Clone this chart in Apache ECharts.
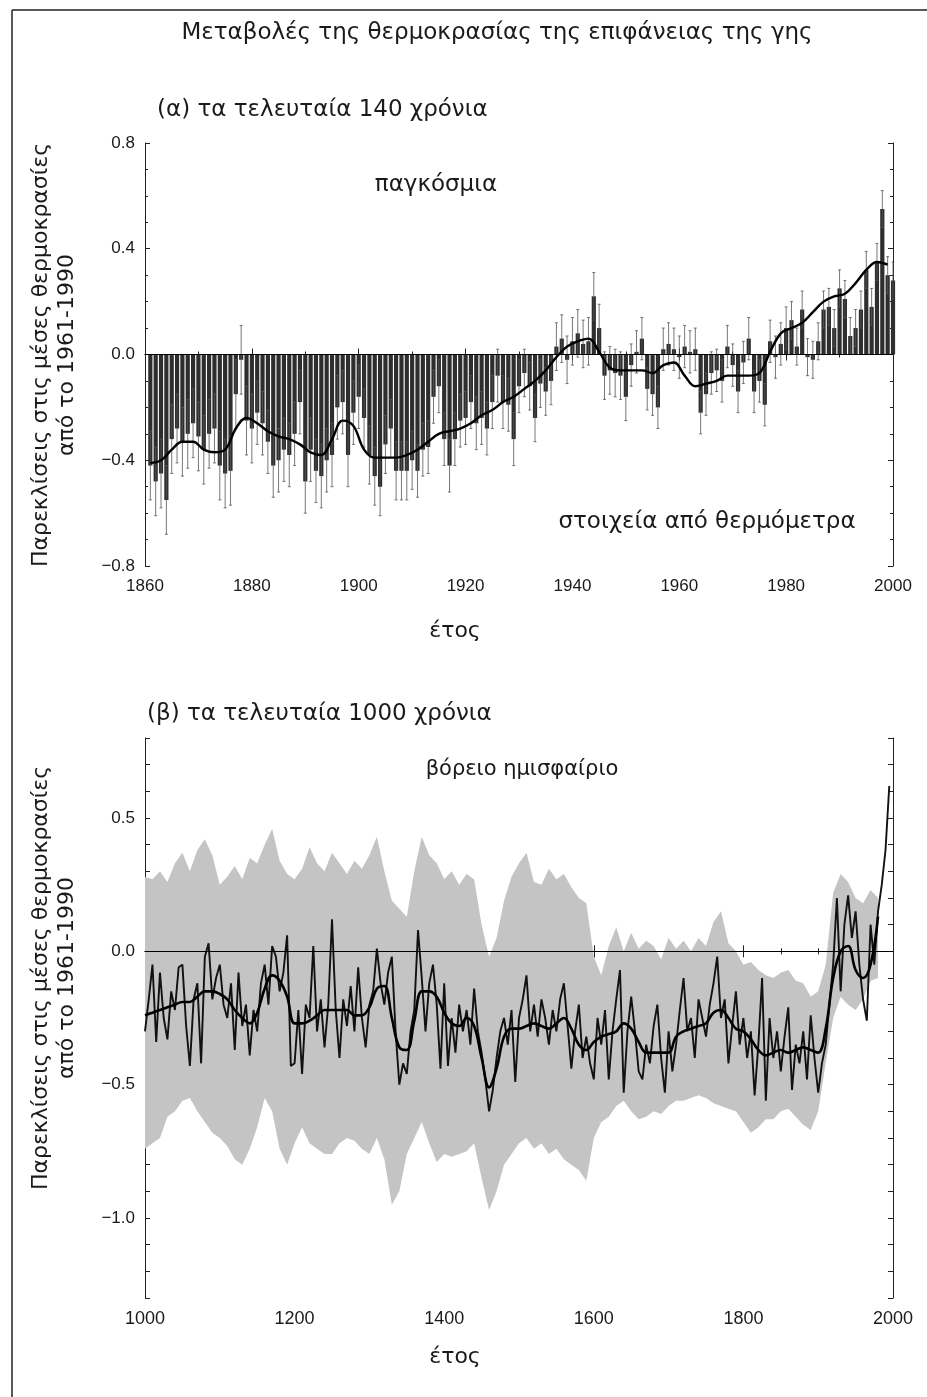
<!DOCTYPE html>
<html>
<head>
<meta charset="utf-8">
<script src="https://cdn.jsdelivr.net/npm/echarts@6/dist/echarts.min.js"></script>
<style>
html,body{margin:0;padding:0;background:#fff;}
#main{width:927px;height:1397px;}
</style>
</head>
<body>
<div id="main"></div>
<script>
// (α) annual global anomalies 1861-2000
var startA = 1861;
var valsA = [
 -0.42,-0.48,-0.45,-0.55,-0.32,-0.28,-0.33,-0.30,-0.26,-0.31,
 -0.36,-0.30,-0.28,-0.42,-0.45,-0.44,-0.15,-0.02,-0.25,-0.28,
 -0.22,-0.26,-0.33,-0.42,-0.40,-0.36,-0.38,-0.30,-0.18,-0.48,
 -0.36,-0.44,-0.46,-0.40,-0.38,-0.20,-0.18,-0.38,-0.22,-0.16,
 -0.24,-0.38,-0.46,-0.50,-0.34,-0.28,-0.44,-0.44,-0.44,-0.40,
 -0.44,-0.36,-0.35,-0.16,-0.12,-0.32,-0.42,-0.32,-0.25,-0.24,
 -0.18,-0.26,-0.24,-0.28,-0.18,-0.08,-0.18,-0.19,-0.32,-0.12,
 -0.07,-0.12,-0.24,-0.11,-0.14,-0.10,0.03,0.06,-0.02,0.05,
 0.08,0.04,0.05,0.22,0.10,-0.08,-0.06,-0.07,-0.08,-0.16,
 -0.04,0.01,0.06,-0.13,-0.15,-0.20,0.02,0.04,0.02,-0.01,
 0.03,0.01,0.02,-0.22,-0.15,-0.07,-0.06,-0.10,0.03,-0.04,
 -0.14,-0.03,0.06,-0.14,-0.10,-0.19,0.05,-0.01,0.04,0.10,
 0.13,0.03,0.17,-0.01,-0.02,0.05,0.17,0.18,0.10,0.25,
 0.21,0.07,0.10,0.17,0.32,0.18,0.35,0.55,0.30,0.28
];
// error half-width per decade (1861-70, 1871-80, ...)
var errA = [0.13,0.13,0.12,0.12,0.11,0.10,0.10,0.09,0.09,0.08,0.08,0.08,0.07,0.07];
// smoothed curve, every 2 years from 1861
var smoothStartA = 1861, smoothStepA = 2;
var smoothA = [
 -0.41,-0.40,-0.36,-0.33,-0.33,-0.36,-0.37,-0.36,-0.28,-0.24,
 -0.26,-0.29,-0.31,-0.32,-0.34,-0.37,-0.38,-0.32,-0.25,-0.27,
 -0.36,-0.39,-0.39,-0.39,-0.38,-0.36,-0.33,-0.30,-0.29,-0.28,
 -0.26,-0.23,-0.21,-0.18,-0.16,-0.13,-0.10,-0.06,-0.01,0.03,
 0.05,0.06,0.01,-0.05,-0.06,-0.06,-0.06,-0.07,-0.04,-0.03,
 -0.08,-0.12,-0.11,-0.10,-0.08,-0.08,-0.08,-0.07,0.01,0.08,
 0.10,0.12,0.16,0.20,0.22,0.23,0.27,0.32,0.35,0.34
];

// (β) northern hemisphere 1000-2000
var lineStartB = 1000, lineStepB = 5;
var lineB = [
 -0.30,-0.18,-0.05,-0.34,-0.08,-0.25,-0.33,-0.15,-0.22,-0.06,
 -0.05,-0.28,-0.43,-0.18,-0.12,-0.42,-0.02,0.03,-0.18,-0.10,
 -0.05,-0.20,-0.25,-0.12,-0.37,-0.08,-0.28,-0.20,-0.39,-0.22,
 -0.30,-0.12,-0.05,-0.20,0.02,-0.02,-0.15,-0.08,0.06,-0.43,
 -0.42,-0.22,-0.46,-0.20,-0.25,0.02,-0.30,-0.18,-0.36,-0.20,
 0.12,-0.22,-0.40,-0.18,-0.28,-0.13,-0.30,-0.06,-0.25,-0.36,
 -0.20,-0.15,0.01,-0.12,-0.20,-0.08,-0.02,-0.30,-0.50,-0.42,
 -0.46,-0.30,-0.22,0.08,-0.10,-0.30,-0.12,-0.05,-0.20,-0.44,
 -0.12,-0.43,-0.25,-0.38,-0.20,-0.30,-0.22,-0.35,-0.14,-0.30,
 -0.38,-0.48,-0.60,-0.52,-0.40,-0.30,-0.25,-0.35,-0.22,-0.49,
 -0.25,-0.18,-0.09,-0.30,-0.20,-0.32,-0.18,-0.25,-0.35,-0.22,
 -0.30,-0.18,-0.12,-0.28,-0.44,-0.30,-0.20,-0.40,-0.32,-0.42,
 -0.48,-0.25,-0.35,-0.22,-0.48,-0.30,-0.18,-0.07,-0.53,-0.30,
 -0.17,-0.30,-0.45,-0.48,-0.35,-0.42,-0.28,-0.20,-0.40,-0.53,
 -0.30,-0.45,-0.35,-0.22,-0.10,-0.30,-0.25,-0.40,-0.18,-0.25,
 -0.32,-0.20,-0.12,-0.02,-0.25,-0.18,-0.42,-0.28,-0.15,-0.35,
 -0.25,-0.40,-0.30,-0.54,-0.35,-0.10,-0.56,-0.25,-0.40,-0.30,
 -0.45,-0.32,-0.21,-0.52,-0.35,-0.42,-0.30,-0.48,-0.24,-0.40,
 -0.53,-0.42,-0.35,-0.20,-0.05,0.20,-0.15,0.10,0.21,0.05,
 0.15,-0.05,-0.18,-0.26,0.10,-0.05,0.15,0.25,0.38,0.62
];
// decadal series 1000-1980
var decStartB = 1000, decStepB = 10;
var smoothB = [
 -0.24,-0.23,-0.22,-0.21,-0.20,-0.19,-0.19,-0.17,-0.15,-0.15,
 -0.16,-0.18,-0.22,-0.25,-0.27,-0.23,-0.14,-0.09,-0.11,-0.17,
 -0.27,-0.27,-0.26,-0.24,-0.22,-0.22,-0.22,-0.22,-0.24,-0.24,
 -0.21,-0.14,-0.13,-0.25,-0.36,-0.37,-0.26,-0.15,-0.15,-0.17,
 -0.23,-0.27,-0.28,-0.25,-0.28,-0.40,-0.51,-0.44,-0.32,-0.29,
 -0.29,-0.28,-0.27,-0.28,-0.29,-0.27,-0.25,-0.29,-0.35,-0.37,
 -0.34,-0.32,-0.31,-0.30,-0.27,-0.29,-0.34,-0.38,-0.38,-0.38,
 -0.38,-0.32,-0.30,-0.29,-0.28,-0.27,-0.23,-0.22,-0.25,-0.29,
 -0.30,-0.33,-0.37,-0.39,-0.38,-0.37,-0.38,-0.37,-0.36,-0.37,
 -0.38,-0.29,-0.10,0.00,0.02,-0.07,-0.10,-0.05,0.13
];
var bandUpperB = [
 0.28,0.27,0.30,0.26,0.33,0.37,0.30,0.38,0.42,0.36,
 0.25,0.28,0.32,0.27,0.35,0.33,0.40,0.46,0.34,0.29,
 0.27,0.31,0.39,0.33,0.30,0.37,0.33,0.29,0.34,0.31,
 0.36,0.43,0.30,0.19,0.16,0.13,0.30,0.43,0.36,0.33,
 0.27,0.30,0.25,0.29,0.27,0.10,-0.02,0.05,0.19,0.28,
 0.33,0.37,0.26,0.25,0.31,0.27,0.29,0.24,0.20,0.18,
 -0.02,-0.09,0.02,0.09,0.00,0.07,0.01,0.04,0.02,-0.03,
 0.05,0.01,0.04,0.00,0.05,0.02,0.11,0.15,0.03,0.00,
 -0.05,-0.04,-0.07,-0.09,-0.10,-0.08,-0.07,-0.11,-0.12,-0.17,
 -0.15,-0.05,0.22,0.29,0.26,0.20,0.18,0.23,0.20
];
var bandLowerB = [
 -0.74,-0.72,-0.70,-0.62,-0.60,-0.56,-0.55,-0.60,-0.64,-0.68,
 -0.70,-0.73,-0.78,-0.80,-0.74,-0.66,-0.55,-0.60,-0.74,-0.80,
 -0.72,-0.66,-0.72,-0.74,-0.76,-0.76,-0.72,-0.70,-0.71,-0.74,
 -0.76,-0.70,-0.78,-0.95,-0.90,-0.76,-0.70,-0.64,-0.72,-0.79,
 -0.76,-0.77,-0.76,-0.75,-0.72,-0.85,-0.97,-0.90,-0.80,-0.76,
 -0.72,-0.70,-0.74,-0.72,-0.76,-0.74,-0.78,-0.80,-0.82,-0.86,
 -0.70,-0.64,-0.62,-0.58,-0.56,-0.60,-0.63,-0.62,-0.60,-0.61,
 -0.58,-0.56,-0.56,-0.55,-0.54,-0.55,-0.57,-0.58,-0.59,-0.60,
 -0.64,-0.68,-0.66,-0.63,-0.63,-0.60,-0.59,-0.62,-0.65,-0.67,
 -0.60,-0.42,-0.25,-0.17,-0.20,-0.22,-0.18,-0.11,-0.10
];

var FONT = 'Liberation Sans';
var TFONT = '"DejaVu Sans"';
var INK = '#1a1a1a';

function pairs(start, step, arr) {
    return arr.map(function (v, i) { return [start + i * step, v]; });
}
function fmt(v) {
    var s = Math.abs(v).toFixed(1);
    return (v < -1e-9 ? '\u2212' : '') + s;
}

var barsA = pairs(startA, 1, valsA);
var whiskA = valsA.map(function (v, i) { return [startA + i, v, errA[Math.floor(i / 10)]]; });

function xAx(grid, min, max, interval, minor, top, fs) {
    return {
        gridIndex: grid, type: 'value', min: min, max: max, interval: interval,
        position: top ? 'top' : 'bottom',
        axisLine: {lineStyle: {color: '#222', width: 1}},
        axisTick: {inside: true, length: 6, lineStyle: {color: '#222'}},
        minorTick: {show: true, splitNumber: minor, length: 3, lineStyle: {color: '#222'}},
        axisLabel: {
            show: !top, fontFamily: FONT, fontSize: fs, color: INK, margin: 12,
            formatter: function (v) { return String(v); }
        },
        splitLine: {show: false}
    };
}
function yAx(grid, min, max, interval, minor, right, labelStep) {
    return {
        gridIndex: grid, type: 'value', min: min, max: max, interval: interval,
        position: right ? 'right' : 'left',
        axisLine: {show: true, lineStyle: {color: '#222', width: 1}},
        axisTick: {inside: true, length: 5, lineStyle: {color: '#222'}},
        minorTick: {show: minor > 0, splitNumber: minor || 1, length: 3, lineStyle: {color: '#222'}},
        axisLabel: {
            show: !right, fontFamily: FONT, fontSize: 17, color: INK, margin: 10,
            formatter: function (v) {
                var k = v / labelStep;
                if (Math.abs(k - Math.round(k)) > 1e-6) return '';
                return fmt(v);
            }
        },
        splitLine: {show: false}
    };
}
function txt(x, y, s, size, align, rot) {
    var g = {type: 'text', x: x, y: y, style: {
        text: s, font: size + 'px ' + TFONT, fill: INK,
        textAlign: align || 'center', textVerticalAlign: 'middle'
    }};
    if (rot) g.rotation = rot;
    return g;
}

var myChart = echarts.init(document.getElementById('main'), null, {renderer: 'canvas'});

var yName1 = 'Παρεκλίσεις στις μέσες θερμοκρασίες';
var yName2 = 'από το 1961-1990';

var option = {
    animation: false,
    backgroundColor: '#fff',
    grid: [
        {left: 145, top: 143, width: 748, height: 423},
        {left: 145, top: 738, width: 748, height: 560}
    ],
    xAxis: [
        xAx(0, 1860, 2000, 20, 2, false, 17),
        xAx(0, 1860, 2000, 20, 2, true, 17),
        xAx(1, 1000, 2000, 200, 4, false, 18),
        xAx(1, 1000, 2000, 200, 4, true, 18)
    ],
    yAxis: [
        yAx(0, -0.8, 0.8, 0.4, 4, false, 0.4),
        yAx(0, -0.8, 0.8, 0.4, 4, true, 0.4),
        yAx(1, -1.3, 0.8, 0.1, 0, false, 0.5),
        yAx(1, -1.3, 0.8, 0.1, 0, true, 0.5)
    ],
    series: [
        {
            type: 'bar', xAxisIndex: 0, yAxisIndex: 0, data: barsA,
            barWidth: 4.2, itemStyle: {color: '#2e2e2e'}, z: 2,
            markLine: {
                silent: true, symbol: ['none', 'none'], label: {show: false},
                lineStyle: {color: '#000', width: 1.2, type: 'solid'},
                data: [{yAxis: 0}]
            }
        },
        {
            type: 'custom', xAxisIndex: 0, yAxisIndex: 0, data: whiskA, z: 3,
            encode: {x: 0, y: 1},
            renderItem: function (params, api) {
                var x = api.value(0), v = api.value(1), e = api.value(2);
                var p1 = api.coord([x, v + e]), p2 = api.coord([x, v - e]);
                var st = {stroke: '#555', lineWidth: 0.8};
                return {type: 'group', children: [
                    {type: 'line', shape: {x1: p1[0], y1: p1[1], x2: p2[0], y2: p2[1]}, style: st},
                    {type: 'line', shape: {x1: p1[0] - 1.5, y1: p1[1], x2: p1[0] + 1.5, y2: p1[1]}, style: st},
                    {type: 'line', shape: {x1: p2[0] - 1.5, y1: p2[1], x2: p2[0] + 1.5, y2: p2[1]}, style: st}
                ]};
            }
        },
        {
            type: 'line', xAxisIndex: 0, yAxisIndex: 0, data: pairs(smoothStartA, smoothStepA, smoothA),
            showSymbol: false, smooth: 0.4, z: 4,
            lineStyle: {color: '#000', width: 2.4}
        },
        {
            type: 'custom', xAxisIndex: 2, yAxisIndex: 2, data: [[decStartB, 0]], z: 1,
            encode: {x: 0, y: 1},
            renderItem: function (params, api) {
                var pts = [];
                for (var i = 0; i < bandUpperB.length; i++) {
                    pts.push(api.coord([decStartB + i * decStepB, bandUpperB[i]]));
                }
                for (var j = bandLowerB.length - 1; j >= 0; j--) {
                    pts.push(api.coord([decStartB + j * decStepB, bandLowerB[j]]));
                }
                return {type: 'polygon', shape: {points: pts}, style: {fill: '#c4c4c4'}};
            }
        },
        {
            type: 'line', xAxisIndex: 2, yAxisIndex: 2, data: pairs(lineStartB, lineStepB, lineB),
            showSymbol: false, z: 3,
            lineStyle: {color: '#111', width: 1.9},
            markLine: {
                silent: true, symbol: ['none', 'none'], label: {show: false},
                lineStyle: {color: '#000', width: 1.2, type: 'solid'},
                data: [{yAxis: 0}]
            }
        },
        {
            type: 'line', xAxisIndex: 2, yAxisIndex: 2, data: pairs(decStartB, decStepB, smoothB),
            showSymbol: false, smooth: 0.4, z: 4,
            lineStyle: {color: '#000', width: 2.6}
        }
    ],
    graphic: [
        {type: 'line', shape: {x1: 12, y1: 10, x2: 927, y2: 10}, style: {stroke: '#222', lineWidth: 1.5}},
        {type: 'line', shape: {x1: 12, y1: 10, x2: 12, y2: 1397}, style: {stroke: '#222', lineWidth: 1.5}},
        txt(497, 33, 'Μεταβολές της θερμοκρασίας της επιφάνειας της γης', 23),
        txt(157, 110, '(α) τα τελευταία 140 χρόνια', 23, 'left'),
        txt(147, 714, '(β) τα τελευταία 1000 χρόνια', 23, 'left'),
        txt(436, 185, 'παγκόσμια', 23),
        txt(707, 522, 'στοιχεία από θερμόμετρα', 23),
        txt(522, 770, 'βόρειο ημισφαίριο', 21),
        txt(455, 631, 'έτος', 22),
        txt(455, 1357, 'έτος', 22),
        txt(41, 355, yName1, 22, 'center', Math.PI / 2),
        txt(67, 355, yName2, 22, 'center', Math.PI / 2),
        txt(41, 978, yName1, 22, 'center', Math.PI / 2),
        txt(67, 978, yName2, 22, 'center', Math.PI / 2)
    ]
};

if (option && typeof option === 'object') {
    myChart.setOption(option, true);
}
</script>
</body>
</html>
